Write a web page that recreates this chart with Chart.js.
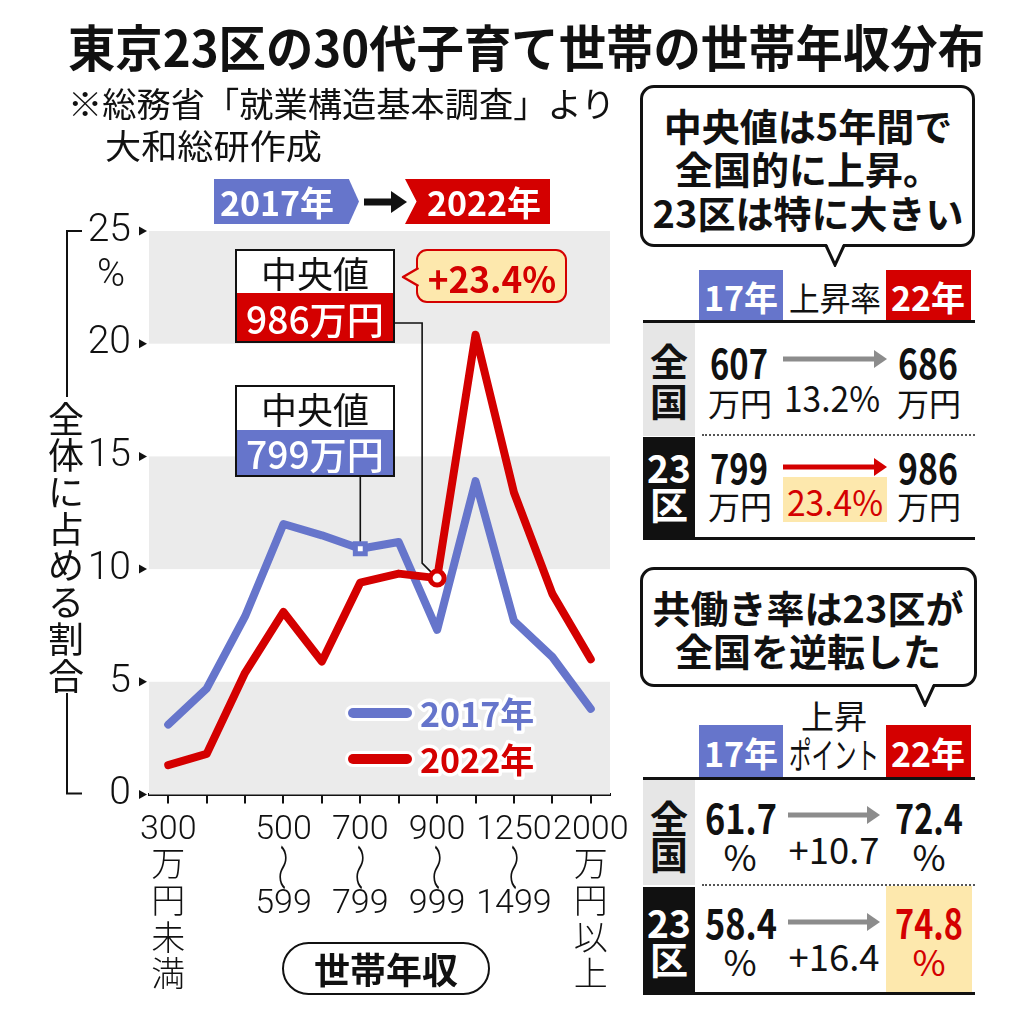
<!DOCTYPE html>
<html lang="ja"><head><meta charset="utf-8">
<script src="https://cdn.jsdelivr.net/npm/chart.js@4.4.1/dist/chart.umd.min.js"></script>
<style>
html,body{margin:0;padding:0;background:#fff}
body{width:1024px;height:1021px;position:relative;overflow:hidden;font-family:"Noto Sans CJK JP",sans-serif;color:#111}
#chart{position:absolute;left:0;top:0;width:640px;height:1021px}
</style></head><body>
<canvas id="chart" width="640" height="1021"></canvas>
<script>
// ---------- data ----------
const categories = ['300万円未満','300〜399','400〜499','500〜599','600〜699','700〜799','800〜899','900〜999','1000〜1249','1250〜1499','1500〜1999','2000万円以上'];
const share2017 = [3.1, 4.7, 7.9, 12.0, 11.5, 10.9, 11.2, 7.3, 13.9, 7.7, 6.1, 3.8];
const share2022 = [1.3, 1.8, 5.4, 8.1, 5.9, 9.4, 9.8, 9.6, 20.4, 13.4, 8.9, 6.0];
const seriesNames = ['2017年', '2022年'];
const yTicks = [0, 5, 10, 15, 20, 25];
const xTickLines = [['300','万','円','未','満'], '', '', ['500','〜','599'], '', ['700','〜','799'], '', ['900','〜','999'], '', ['1250','〜','1499'], '', ['2000','万','円','以','上']];
const yTitle = '全体に占める割合';
const medianIndex = [5, 7];           // category holding the median (2017, 2022)
const medianLabel = ['799万円', '986万円'];
const medianRiseLabel = '+23.4%';
const medianNational = ['607', '686'], median23 = ['799', '986'], medianRise = ['13.2%', '23.4%'];
const dualNational = ['61.7', '72.4'], dual23 = ['58.4', '74.8'], dualRise = ['+10.7', '+16.4'];

const BLUE = '#6675cb', RED = '#d40000', BAND = '#ebebeb', INK = '#111', YEL = '#fde8ad';
const WAVE = '〜';
const TICK_FONT_SIZE = 34, TICK_LINE_HEIGHT = 1.08;

// ---------- chart ----------
const annot = {
  id: 'annot',
  beforeDatasetsDraw(chart) {
    const {ctx, chartArea: a, scales: {x, y}} = chart;
    ctx.save();
    ctx.fillStyle = BAND;
    for (let v = 0; v < 25; v += 10) {
      const t = y.getPixelForValue(v + 5), b = y.getPixelForValue(v);
      ctx.fillRect(a.left, t, a.right - a.left, b - t);
    }
    ctx.strokeStyle = INK; ctx.lineWidth = 1.6;
    const bx = x.getPixelForValue(medianIndex[0]), by = y.getPixelForValue(share2017[medianIndex[0]]);
    ctx.beginPath(); ctx.moveTo(bx, 477); ctx.lineTo(bx, by); ctx.stroke();
    const rx = x.getPixelForValue(medianIndex[1]), ry = y.getPixelForValue(share2022[medianIndex[1]]);
    ctx.beginPath(); ctx.moveTo(395, 323); ctx.lineTo(rx - 15, 323); ctx.lineTo(rx - 15, ry - 15); ctx.lineTo(rx, ry); ctx.stroke();
    ctx.restore();
  },
  afterDraw(chart) {
    const {ctx, chartArea: a, scales: {x, y}} = chart;
    ctx.save();
    ctx.fillStyle = INK;
    yTicks.forEach(v => {
      const py = y.getPixelForValue(v);
      ctx.beginPath(); ctx.moveTo(139, py - 4.5); ctx.lineTo(147, py); ctx.lineTo(139, py + 4.5); ctx.closePath(); ctx.fill();
    });
    ctx.textAlign = 'center'; ctx.textBaseline = 'middle';
    ctx.font = '300 38px Roboto, "Noto Sans CJK JP"';
    ctx.fillText('%', 111, 276);
    ctx.strokeStyle = INK; ctx.lineWidth = 2;
    ctx.beginPath(); ctx.moveTo(82, a.top); ctx.lineTo(67, a.top); ctx.lineTo(67, 397); ctx.stroke();
    ctx.beginPath(); ctx.moveTo(67, 693); ctx.lineTo(67, a.bottom - 1); ctx.lineTo(82, a.bottom - 1); ctx.stroke();
    ctx.font = '400 36px "Noto Sans CJK JP"';
    [...yTitle].forEach((ch, i) => ctx.fillText(ch, 66, 419 + i * 36.7));
    // vertical range waves inside x tick labels
    const lh = TICK_FONT_SIZE * TICK_LINE_HEIGHT;
    const firstLineY = a.bottom + 9 + 9 + lh / 2;
    ctx.font = '300 30px "Noto Sans CJK JP"';
    xTickLines.forEach((lines, i) => {
      if (!Array.isArray(lines)) return;
      lines.forEach((ln, j) => {
        if (ln !== WAVE) return;
        ctx.save();
        ctx.translate(x.getPixelForValue(i), firstLineY + j * lh);
        ctx.rotate(Math.PI / 2);
        ctx.scale(1.6, 1.0);
        ctx.fillText(WAVE, 0, 0);
        ctx.restore();
      });
    });
    // legend
    const ds = chart.data.datasets;
    [[ds[1], 713], [ds[0], 759]].forEach(([d, yy]) => {
      ctx.lineCap = 'round';
      ctx.strokeStyle = '#fff'; ctx.lineWidth = 16;
      ctx.beginPath(); ctx.moveTo(353, yy); ctx.lineTo(407, yy); ctx.stroke();
      ctx.strokeStyle = d.borderColor; ctx.lineWidth = 10;
      ctx.beginPath(); ctx.moveTo(353, yy); ctx.lineTo(407, yy); ctx.stroke();
      ctx.font = '700 34px "Noto Sans CJK JP"'; ctx.textAlign = 'left';
      ctx.lineJoin = 'round'; ctx.lineWidth = 7; ctx.strokeStyle = '#fff';
      ctx.strokeText(d.label, 420, yy + 1);
      ctx.fillStyle = d.borderColor; ctx.fillText(d.label, 420, yy + 1);
    });
    ctx.restore();
  }
};

const lineStyle = (color, shape, idx, data) => ({
  borderColor: color, backgroundColor: color, borderWidth: 8,
  borderJoinStyle: 'round', borderCapStyle: 'round', tension: 0, fill: false,
  pointRadius: data.map((_, i) => i === idx ? 7 : 0), pointHoverRadius: 0,
  pointStyle: shape, pointBackgroundColor: '#fff', pointBorderColor: color, pointBorderWidth: 5
});

new Chart(document.getElementById('chart'), {
  type: 'line',
  data: {
    labels: categories,
    datasets: [
      Object.assign({label: seriesNames[1], data: share2022}, lineStyle(RED, 'circle', medianIndex[1], share2022)),
      Object.assign({label: seriesNames[0], data: share2017}, lineStyle(BLUE, 'rect', medianIndex[0], share2017))
    ]
  },
  options: {
    responsive: false, animation: false, devicePixelRatio: 1,
    layout: {padding: {top: 231, right: 30, left: 0, bottom: 0}},
    plugins: {legend: {display: false}, tooltip: {enabled: false}},
    scales: {
      x: {
        type: 'category', offset: true,
        grid: {display: true, drawOnChartArea: false, drawTicks: true, tickLength: 9, color: INK, lineWidth: 2},
        border: {display: true, color: INK, width: 3},
        ticks: {autoSkip: false, maxRotation: 0, minRotation: 0, padding: 9, color: INK,
          font: {family: 'Roboto, "Noto Sans CJK JP", "DejaVu Sans"', size: TICK_FONT_SIZE, weight: '300', lineHeight: TICK_LINE_HEIGHT},
          callback: (v, i) => Array.isArray(xTickLines[i]) ? xTickLines[i].map(s => s === WAVE ? ' ' : s) : xTickLines[i]},
        afterFit: s => { s.height = 226.5; }
      },
      y: {
        min: 0, max: 25,
        afterBuildTicks: s => { s.ticks = yTicks.map(v => ({value: v})); },
        grid: {display: false, drawTicks: false}, border: {display: false},
        ticks: {padding: 18, color: INK, font: {family: 'Roboto, "Noto Sans CJK JP"', size: 39, weight: '300'}},
        afterFit: s => { s.width = 149; }
      }
    }
  },
  plugins: [annot]
});

// ---------- HTML overlays ----------
function el(css, text) {
  const e = document.createElement('div');
  e.style.cssText = 'position:absolute;box-sizing:border-box;' + css;
  if (text != null) e.textContent = text;
  document.body.appendChild(e);
  return e;
}
function txt(text, cx, cy, size, weight, color, fitW) {
  const e = el(`left:${cx}px;top:${cy}px;white-space:nowrap;line-height:1;font-size:${size}px;font-weight:${weight};color:${color || INK};`, text);
  let k = 1;
  if (fitW) k = fitW / e.offsetWidth;
  e.style.transform = `translate(-50%,-50%) scaleX(${k})`;
  return e;
}
function ltxt(text, x, cy, size, weight, fitW) {
  const e = el(`left:${x}px;top:${cy}px;white-space:nowrap;line-height:1;font-size:${size}px;font-weight:${weight};transform-origin:0 50%;`, text);
  const k = fitW ? fitW / e.offsetWidth : 1;
  e.style.transform = `translateY(-50%) scaleX(${k})`;
  return e;
}
function rect(x, y, w, h, bg, extra) { return el(`left:${x}px;top:${y}px;width:${w}px;height:${h}px;background:${bg};${extra || ''}`); }
function svg(x, y, w, h, inner) {
  const d = document.createElement('div');
  d.style.cssText = `position:absolute;left:${x}px;top:${y}px;width:${w}px;height:${h}px;`;
  d.innerHTML = `<svg width="${w}" height="${h}" viewBox="0 0 ${w} ${h}" xmlns="http://www.w3.org/2000/svg">${inner}</svg>`;
  document.body.appendChild(d);
}
function arrow(x1, x2, y, color, shaft, head, headLen) {
  const w = x2 - x1, h = head + 4, m = h / 2;
  svg(x1, y - m, w, h, `<rect x="0" y="${m - shaft / 2}" width="${w - headLen + 1}" height="${shaft}" fill="${color}"/><polygon points="${w - headLen},${m - head / 2} ${w},${m} ${w - headLen},${m + head / 2}" fill="${color}"/>`);
}

// title & source
ltxt('東京23区の30代子育て世帯の世帯年収分布', 68, 45, 50, 700, 917);
ltxt('※総務省「就業構造基本調査」より', 68, 103, 34, 400, 547);
ltxt('大和総研作成', 105, 145, 34, 400, 217);

// year badges
rect(214, 179, 145, 45, BLUE, 'clip-path:polygon(0 0,93% 0,100% 50%,93% 100%,0 100%);');
txt(seriesNames[0], 277, 202, 34, 700, '#fff');
arrow(364, 407, 202, INK, 7, 22, 16);
rect(405, 179, 145, 45, RED, 'clip-path:polygon(0 0,100% 0,100% 100%,0 100%,8% 50%);');
txt(seriesNames[1], 484, 202, 34, 700, '#fff');

// median boxes
rect(235, 249, 160, 94, '#fff', `border:2px solid ${INK};`);
rect(237, 293, 156, 48, RED);
txt('中央値', 315, 272, 36, 400);
txt(medianLabel[1], 315, 318, 38, 500, '#fff', 138);
rect(235, 385, 160, 92, '#fff', `border:2px solid ${INK};`);
rect(237, 430, 156, 45, BLUE);
txt('中央値', 315, 408, 36, 400);
txt(medianLabel[0], 315, 453, 38, 500, '#fff', 138);

// +23.4% callout
rect(416, 249, 151, 54, YEL, `border:2.5px solid ${RED};border-radius:11px;`);
svg(400, 265, 20, 24, `<polygon points="19,3 3,12 19,21" fill="${YEL}" stroke="none"/><polyline points="18.5,3 3,12 18.5,21" fill="none" stroke="${RED}" stroke-width="2.5" stroke-linejoin="round"/>`);
txt(medianRiseLabel, 492, 277, 36, 700, RED, 128);

// x axis title pill
rect(282, 942, 208, 53, '#fff', `border:2.5px solid ${INK};border-radius:27px;`);
txt('世帯年収', 386, 968, 36, 700);

// ---------- right panel helpers ----------
function bubble(x, y, w, h, tipX, tipY) {
  rect(x, y, w, h, '#fff', `border:3px solid ${INK};border-radius:14px;`);
  const by = y + h;
  svg(tipX - 12, by - 5, 24, tipY - by + 7, `<polygon points="3,0 21,0 12,${tipY - by + 5}" fill="#fff"/><polyline points="3,3.5 12,${tipY - by + 5} 21,3.5" fill="none" stroke="${INK}" stroke-width="3" stroke-linejoin="miter"/>`);
}
function header(y, h) {
  rect(699, y, 84, h, BLUE); txt('17年', 741, y + h / 2 + 1, 34, 700, '#fff');
  rect(886, y, 85, h, RED); txt('22年', 928, y + h / 2 + 1, 34, 700, '#fff');
  rect(643, y + h - 1, 332, 3, INK);
}
function sideCell(y, h, bg, fg, a, b, ya, yb) {
  rect(643, y, 52, h, bg);
  txt(a, 669, ya, 38, 700, fg, a.length > 1 ? 44 : null);
  txt(b, 669, yb, 38, 700, fg);
}

// panel 1: median income
bubble(640, 85, 335, 162, 835, 265);
txt('中央値は5年間で', 808, 125, 38, 700);
txt('全国的に上昇。', 808, 168, 38, 700);
txt('23区は特に大きい', 808, 212, 38, 700);
header(270, 51);
txt('上昇率', 835, 297, 33, 400, INK, 92);
sideCell(323, 113, '#e6e6e6', INK, '全', '国', 360, 400);
txt(medianNational[0], 739, 362, 40, 700, INK, 58);
txt('万円', 740, 402, 32, 400);
arrow(783, 887, 359, '#8c8c8c', 5, 18, 13);
txt(medianRise[0], 832, 396, 36, 400, INK, 96);
txt(medianNational[1], 928, 362, 40, 700, INK, 60);
txt('万円', 929, 402, 32, 400);
rect(702, 434, 273, 2, 'transparent', 'border-top:2px dotted #555;');
sideCell(437, 101, INK, '#fff', '23', '区', 467, 503);
txt(median23[0], 739, 467, 40, 700, INK, 58);
txt('万円', 740, 505, 32, 400);
arrow(783, 887, 467, RED, 5, 18, 13);
rect(783, 477, 104, 45, YEL);
txt(medianRise[1], 835, 500, 36, 400, RED, 96);
txt(median23[1], 928, 467, 40, 700, INK, 60);
txt('万円', 929, 505, 32, 400);
rect(643, 537, 332, 3, INK);

// panel 2: dual-income rate
bubble(640, 567, 337, 120, 925, 705);
txt('共働き率は23区が', 808, 607, 38, 700);
txt('全国を逆転した', 808, 650, 38, 700);
txt('上昇', 834, 715, 33, 400);
txt('ポイント', 834, 753, 36, 400, INK, 90);
header(725, 53);
sideCell(780, 105, '#e6e6e6', INK, '全', '国', 817, 853);
txt(dualNational[0], 741, 817, 40, 700, INK, 72);
txt('%', 740, 855, 36, 400);
arrow(788, 880, 815, '#8c8c8c', 5, 18, 13);
txt(dualRise[0], 834, 848, 36, 400, INK, 91);
txt(dualNational[1], 929, 817, 40, 700, INK, 68);
txt('%', 929, 855, 36, 400);
rect(702, 884, 273, 2, 'transparent', 'border-top:2px dotted #555;');
rect(886, 886, 86, 106, YEL);
sideCell(887, 106, INK, '#fff', '23', '区', 922, 958);
txt(dual23[0], 741, 922, 40, 700, INK, 72);
txt('%', 740, 960, 36, 400);
arrow(788, 880, 922, '#8c8c8c', 5, 18, 13);
txt(dualRise[1], 834, 955, 36, 400, INK, 91);
txt(dual23[1], 929, 922, 40, 700, RED, 68);
txt('%', 929, 960, 36, 400, RED);
rect(643, 992, 332, 3, INK);
</script>
</body></html>
